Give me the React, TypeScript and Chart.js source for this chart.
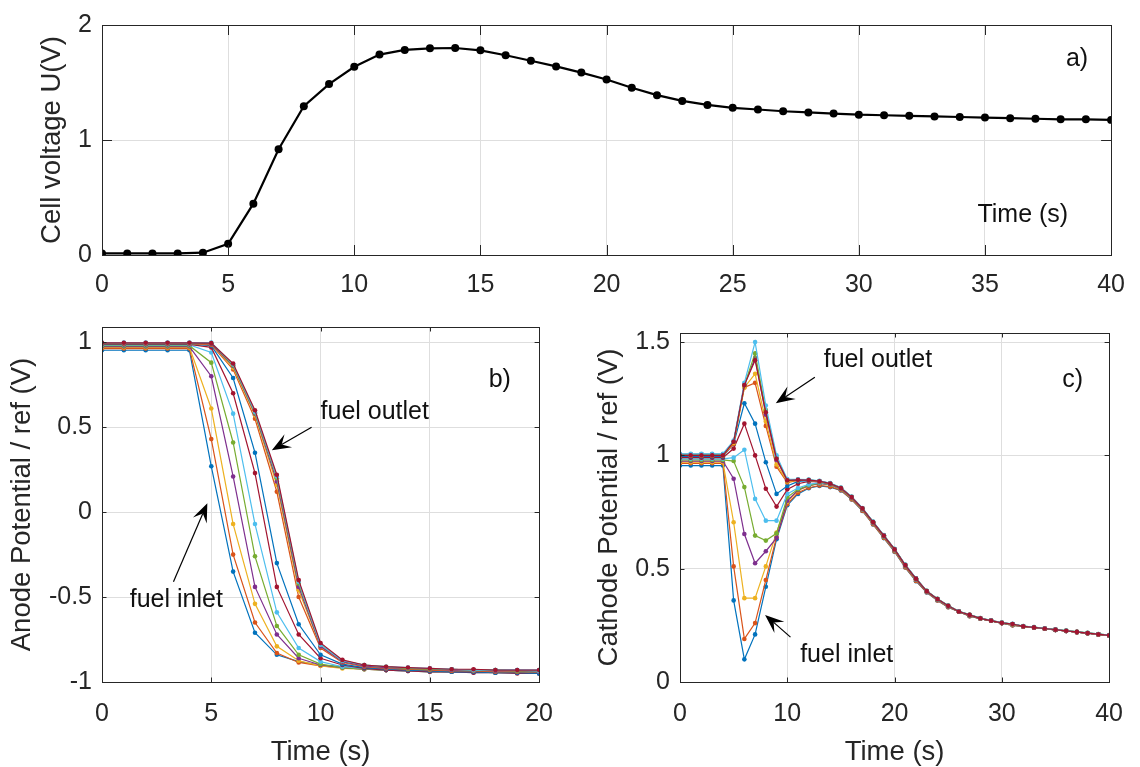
import React, { useEffect, useRef } from 'react';
import { Chart, registerables } from 'chart.js';

Chart.register(...registerables);

const FONT = "'Liberation Sans', Arial, Helvetica, sans-serif";
const AXIS_COLOR = '#262626';
const GRID_COLOR = '#dedede';
const NOTE_COLOR = '#111111';
const SERIES_COLORS = ['#0072BD', '#D95319', '#EDB120', '#7E2F8E', '#77AC30', '#4DBEEE', '#A2142F'];

// ---------- panel a) ----------
const timeA = [0, 1, 2, 3, 4, 5, 6, 7, 8, 9, 10, 11, 12, 13, 14, 15, 16, 17, 18, 19, 20, 21, 22, 23, 24, 25, 26, 27, 28, 29, 30, 31, 32, 33, 34, 35, 36, 37, 38, 39, 40];
const cellVoltage = [0.014, 0.014, 0.014, 0.014, 0.02, 0.097, 0.446, 0.92, 1.294, 1.486, 1.637, 1.743, 1.783, 1.797, 1.8, 1.78, 1.737, 1.689, 1.64, 1.586, 1.526, 1.454, 1.39, 1.34, 1.305, 1.28, 1.265, 1.25, 1.24, 1.23, 1.22, 1.215, 1.21, 1.205, 1.2, 1.195, 1.19, 1.185, 1.18, 1.18, 1.175];
const xTicksA = [0, 5, 10, 15, 20, 25, 30, 35, 40];
const yTicksA = [0, 1, 2];

// ---------- panel b) ----------
const timeB = [0, 1, 2, 3, 4, 5, 6, 7, 8, 9, 10, 11, 12, 13, 14, 15, 16, 17, 18, 19, 20];
const anode0 = [0.953, 0.953, 0.953, 0.953, 0.953, 0.27, -0.35, -0.71, -0.84, -0.88, -0.9, -0.91, -0.915, -0.92, -0.92, -0.925, -0.925, -0.93, -0.93, -0.93, -0.93];
const anode1 = [0.963, 0.963, 0.963, 0.963, 0.963, 0.43, -0.25, -0.65, -0.83, -0.885, -0.905, -0.915, -0.92, -0.925, -0.925, -0.93, -0.93, -0.935, -0.935, -0.935, -0.935];
const anode2 = [0.97, 0.97, 0.97, 0.97, 0.97, 0.61, -0.07, -0.54, -0.79, -0.875, -0.905, -0.92, -0.925, -0.93, -0.93, -0.935, -0.935, -0.94, -0.94, -0.94, -0.94];
const anode3 = [0.975, 0.975, 0.975, 0.975, 0.975, 0.8, 0.21, -0.44, -0.72, -0.86, -0.9, -0.915, -0.925, -0.93, -0.935, -0.935, -0.94, -0.94, -0.94, -0.945, -0.945];
const anode4 = [0.98, 0.98, 0.98, 0.98, 0.98, 0.88, 0.41, -0.26, -0.67, -0.84, -0.895, -0.915, -0.925, -0.93, -0.935, -0.94, -0.94, -0.94, -0.945, -0.945, -0.945];
const anode5 = [0.985, 0.985, 0.985, 0.985, 0.985, 0.94, 0.58, -0.07, -0.59, -0.8, -0.88, -0.91, -0.92, -0.93, -0.935, -0.94, -0.94, -0.945, -0.945, -0.945, -0.95];
const anode6 = [0.988, 0.988, 0.988, 0.988, 0.988, 0.97, 0.7, 0.23, -0.44, -0.72, -0.86, -0.9, -0.92, -0.93, -0.935, -0.94, -0.94, -0.945, -0.945, -0.95, -0.95];
const anode7 = [0.99, 0.99, 0.99, 0.99, 0.99, 0.98, 0.79, 0.35, -0.3, -0.66, -0.84, -0.895, -0.915, -0.925, -0.93, -0.935, -0.94, -0.94, -0.945, -0.945, -0.95];
const anode8 = [0.992, 0.992, 0.992, 0.992, 0.992, 0.985, 0.84, 0.55, 0.12, -0.5, -0.8, -0.885, -0.91, -0.92, -0.925, -0.93, -0.935, -0.935, -0.94, -0.94, -0.94];
const anode9 = [0.994, 0.994, 0.994, 0.994, 0.994, 0.99, 0.85, 0.57, 0.16, -0.46, -0.79, -0.88, -0.905, -0.915, -0.92, -0.925, -0.93, -0.93, -0.935, -0.935, -0.935];
const anode10 = [0.995, 0.995, 0.995, 0.995, 0.995, 0.99, 0.86, 0.58, 0.18, -0.44, -0.79, -0.88, -0.905, -0.915, -0.92, -0.925, -0.93, -0.93, -0.935, -0.935, -0.94];
const anode11 = [0.996, 0.996, 0.996, 0.996, 0.996, 0.995, 0.865, 0.585, 0.2, -0.42, -0.78, -0.875, -0.9, -0.91, -0.92, -0.925, -0.925, -0.93, -0.93, -0.935, -0.935];
const anode12 = [0.998, 0.998, 0.998, 0.998, 0.998, 0.998, 0.87, 0.59, 0.21, -0.41, -0.78, -0.875, -0.9, -0.91, -0.915, -0.92, -0.925, -0.93, -0.93, -0.93, -0.935];
const anode13 = [0.997, 0.997, 0.997, 0.997, 0.997, 0.995, 0.875, 0.6, 0.22, -0.4, -0.77, -0.87, -0.9, -0.91, -0.915, -0.92, -0.925, -0.925, -0.93, -0.93, -0.93];
const anodeTraces = [anode0, anode1, anode2, anode3, anode4, anode5, anode6, anode7, anode8, anode9, anode10, anode11, anode12, anode13];
const xTicksB = [0, 5, 10, 15, 20];
const yTicksB = [-1, -0.5, 0, 0.5, 1];

// ---------- panel c) ----------
const timeC = [0, 1, 2, 3, 4, 5, 6, 7, 8, 9, 10, 11, 12, 13, 14, 15, 16, 17, 18, 19, 20, 21, 22, 23, 24, 25, 26, 27, 28, 29, 30, 31, 32, 33, 34, 35, 36, 37, 38, 39, 40];
const cathode0 = [0.955, 0.955, 0.955, 0.955, 0.955, 0.36, 0.1, 0.21, 0.42, 0.63, 0.78, 0.83, 0.855, 0.865, 0.86, 0.845, 0.805, 0.755, 0.695, 0.635, 0.575, 0.505, 0.445, 0.395, 0.36, 0.33, 0.31, 0.29, 0.28, 0.27, 0.26, 0.25, 0.245, 0.24, 0.235, 0.23, 0.225, 0.22, 0.215, 0.21, 0.205];
const cathode1 = [0.965, 0.965, 0.965, 0.965, 0.965, 0.51, 0.19, 0.26, 0.45, 0.64, 0.785, 0.835, 0.857, 0.867, 0.862, 0.846, 0.806, 0.756, 0.696, 0.636, 0.576, 0.506, 0.446, 0.396, 0.36, 0.33, 0.31, 0.29, 0.28, 0.27, 0.26, 0.25, 0.245, 0.24, 0.235, 0.23, 0.225, 0.22, 0.215, 0.21, 0.205];
const cathode2 = [0.97, 0.97, 0.97, 0.97, 0.97, 0.705, 0.37, 0.37, 0.51, 0.66, 0.795, 0.845, 0.865, 0.875, 0.87, 0.85, 0.81, 0.76, 0.7, 0.64, 0.58, 0.51, 0.45, 0.4, 0.362, 0.332, 0.31, 0.292, 0.28, 0.27, 0.26, 0.252, 0.245, 0.24, 0.235, 0.23, 0.225, 0.22, 0.215, 0.21, 0.205];
const cathode3 = [0.975, 0.975, 0.975, 0.975, 0.975, 0.897, 0.653, 0.524, 0.577, 0.636, 0.8, 0.847, 0.866, 0.876, 0.871, 0.851, 0.811, 0.761, 0.701, 0.641, 0.581, 0.511, 0.451, 0.4, 0.362, 0.332, 0.31, 0.292, 0.28, 0.27, 0.26, 0.252, 0.245, 0.24, 0.235, 0.23, 0.225, 0.22, 0.215, 0.21, 0.205];
const cathode4 = [0.98, 0.98, 0.98, 0.98, 0.98, 0.975, 0.86, 0.646, 0.624, 0.656, 0.815, 0.85, 0.868, 0.878, 0.872, 0.852, 0.812, 0.762, 0.702, 0.642, 0.582, 0.512, 0.452, 0.4, 0.363, 0.333, 0.31, 0.293, 0.28, 0.27, 0.26, 0.253, 0.245, 0.24, 0.235, 0.23, 0.225, 0.22, 0.215, 0.21, 0.205];
const cathode5 = [0.985, 0.985, 0.985, 0.985, 0.985, 0.99, 1.025, 0.808, 0.712, 0.712, 0.83, 0.856, 0.872, 0.88, 0.873, 0.853, 0.813, 0.763, 0.703, 0.643, 0.583, 0.513, 0.453, 0.4, 0.364, 0.334, 0.31, 0.294, 0.28, 0.27, 0.26, 0.254, 0.245, 0.24, 0.235, 0.23, 0.225, 0.22, 0.215, 0.21, 0.205];
const cathode6 = [0.99, 0.99, 0.99, 0.99, 0.99, 1.03, 1.14, 1.0, 0.853, 0.774, 0.85, 0.875, 0.885, 0.883, 0.874, 0.854, 0.814, 0.764, 0.704, 0.644, 0.584, 0.514, 0.454, 0.4, 0.365, 0.335, 0.31, 0.295, 0.28, 0.27, 0.26, 0.255, 0.245, 0.24, 0.235, 0.23, 0.225, 0.22, 0.215, 0.21, 0.205];
const cathode7 = [0.995, 0.995, 0.995, 0.995, 0.995, 1.05, 1.23, 1.14, 0.97, 0.83, 0.865, 0.885, 0.888, 0.884, 0.875, 0.855, 0.815, 0.765, 0.705, 0.645, 0.585, 0.515, 0.455, 0.4, 0.365, 0.335, 0.31, 0.295, 0.28, 0.27, 0.26, 0.255, 0.245, 0.24, 0.235, 0.23, 0.225, 0.22, 0.215, 0.21, 0.205];
const cathode8 = [1.0, 1.0, 1.0, 1.0, 1.0, 1.05, 1.3, 1.32, 1.13, 0.95, 0.88, 0.89, 0.89, 0.885, 0.875, 0.855, 0.815, 0.765, 0.705, 0.645, 0.585, 0.515, 0.455, 0.4, 0.365, 0.335, 0.31, 0.295, 0.28, 0.27, 0.26, 0.255, 0.245, 0.24, 0.235, 0.23, 0.225, 0.22, 0.215, 0.21, 0.205];
const cathode9 = [1.0, 1.0, 1.0, 1.0, 1.0, 1.055, 1.3, 1.36, 1.15, 0.96, 0.885, 0.89, 0.89, 0.885, 0.876, 0.856, 0.816, 0.766, 0.706, 0.646, 0.586, 0.516, 0.456, 0.401, 0.366, 0.336, 0.311, 0.296, 0.281, 0.271, 0.261, 0.255, 0.246, 0.241, 0.236, 0.231, 0.226, 0.221, 0.216, 0.211, 0.206];
const cathode10 = [1.005, 1.005, 1.005, 1.005, 1.005, 1.06, 1.31, 1.43, 1.18, 0.98, 0.89, 0.892, 0.891, 0.886, 0.876, 0.856, 0.816, 0.766, 0.706, 0.646, 0.586, 0.516, 0.456, 0.401, 0.366, 0.336, 0.311, 0.296, 0.281, 0.271, 0.261, 0.256, 0.246, 0.241, 0.236, 0.231, 0.226, 0.221, 0.216, 0.211, 0.206];
const cathode11 = [1.005, 1.005, 1.005, 1.005, 1.005, 1.06, 1.31, 1.45, 1.2, 0.99, 0.89, 0.893, 0.892, 0.887, 0.877, 0.857, 0.817, 0.767, 0.707, 0.647, 0.587, 0.517, 0.457, 0.402, 0.367, 0.337, 0.312, 0.297, 0.282, 0.272, 0.262, 0.256, 0.247, 0.242, 0.237, 0.232, 0.227, 0.222, 0.217, 0.212, 0.207];
const cathode12 = [1.007, 1.007, 1.007, 1.007, 1.007, 1.065, 1.32, 1.5, 1.22, 1.0, 0.895, 0.894, 0.893, 0.888, 0.878, 0.858, 0.818, 0.768, 0.708, 0.648, 0.588, 0.518, 0.458, 0.402, 0.367, 0.337, 0.312, 0.297, 0.282, 0.272, 0.262, 0.257, 0.247, 0.242, 0.237, 0.232, 0.227, 0.222, 0.217, 0.212, 0.207];
const cathode13 = [1.0, 1.0, 1.0, 1.0, 1.0, 1.06, 1.31, 1.42, 1.19, 0.985, 0.89, 0.892, 0.891, 0.886, 0.876, 0.856, 0.816, 0.766, 0.706, 0.646, 0.586, 0.516, 0.456, 0.401, 0.366, 0.336, 0.311, 0.296, 0.281, 0.271, 0.261, 0.256, 0.246, 0.241, 0.236, 0.231, 0.226, 0.221, 0.216, 0.211, 0.206];
const cathodeTraces = [cathode0, cathode1, cathode2, cathode3, cathode4, cathode5, cathode6, cathode7, cathode8, cathode9, cathode10, cathode11, cathode12, cathode13];
const xTicksC = [0, 10, 20, 30, 40];
const yTicksC = [0, 0.5, 1, 1.5];

// ---------- annotations (data coordinates) ----------
type Note = { text: string; x: number; y: number; align: CanvasTextAlign };
type Arrow = { fromX: number; fromY: number; toX: number; toY: number };

const notesA: Note[] = [
  { text: 'a)', x: 38.65, y: 1.7, align: 'center' },
  { text: 'Time (s)', x: 36.5, y: 0.35, align: 'center' },
];
const notesB: Note[] = [
  { text: 'fuel outlet', x: 10.0, y: 0.588, align: 'left' },
  { text: 'fuel inlet', x: 1.27, y: -0.518, align: 'left' },
  { text: 'b)', x: 18.2, y: 0.78, align: 'center' },
];
const arrowsB: Arrow[] = [
  { fromX: 9.59, fromY: 0.5, toX: 7.77, toY: 0.365 },
  { fromX: 3.27, fromY: -0.41, toX: 4.82, toY: 0.053 },
];
const notesC: Note[] = [
  { text: 'fuel outlet', x: 13.4, y: 1.42, align: 'left' },
  { text: 'fuel inlet', x: 11.2, y: 0.119, align: 'left' },
  { text: 'c)', x: 36.6, y: 1.33, align: 'center' },
];
const arrowsC: Arrow[] = [
  { fromX: 12.57, fromY: 1.345, toX: 8.93, toY: 1.23 },
  { fromX: 10.3, fromY: 0.198, toX: 7.93, toY: 0.296 },
];

function makeOverlay(tickLen: number, notes: Note[], arrows: Arrow[]) {
  return {
    id: 'matlabOverlay',
    afterDatasetsDraw(chart: any) {
      const { ctx, chartArea: a, scales } = chart;
      const xs = scales.x;
      const ys = scales.y;
      ctx.save();
      ctx.strokeStyle = AXIS_COLOR;
      ctx.lineWidth = 1;
      ctx.beginPath();
      xs.ticks.forEach((t: any) => {
        const px = Math.round(xs.getPixelForValue(t.value)) + 0.5;
        ctx.moveTo(px, a.bottom);
        ctx.lineTo(px, a.bottom - tickLen);
        ctx.moveTo(px, a.top);
        ctx.lineTo(px, a.top + tickLen);
      });
      ys.ticks.forEach((t: any) => {
        const py = Math.round(ys.getPixelForValue(t.value)) + 0.5;
        ctx.moveTo(a.left, py);
        ctx.lineTo(a.left + tickLen, py);
        ctx.moveTo(a.right, py);
        ctx.lineTo(a.right - tickLen, py);
      });
      ctx.stroke();
      ctx.strokeRect(Math.round(a.left) + 0.5, Math.round(a.top) + 0.5, Math.round(a.right - a.left), Math.round(a.bottom - a.top));
      ctx.restore();
    },
    afterDraw(chart: any) {
      const { ctx, scales } = chart;
      const xs = scales.x;
      const ys = scales.y;
      ctx.save();
      ctx.fillStyle = NOTE_COLOR;
      ctx.font = `25px ${FONT}`;
      ctx.textBaseline = 'middle';
      notes.forEach((n) => {
        ctx.textAlign = n.align;
        ctx.fillText(n.text, xs.getPixelForValue(n.x), ys.getPixelForValue(n.y));
      });
      arrows.forEach((ar) => {
        const x0 = xs.getPixelForValue(ar.fromX);
        const y0 = ys.getPixelForValue(ar.fromY);
        const x1 = xs.getPixelForValue(ar.toX);
        const y1 = ys.getPixelForValue(ar.toY);
        const len = Math.hypot(x1 - x0, y1 - y0);
        const dx = (x1 - x0) / len;
        const dy = (y1 - y0) / len;
        const nx = -dy;
        const ny = dx;
        const L = 19;
        const W = 7.5;
        const notchX = x1 - dx * L * 0.6;
        const notchY = y1 - dy * L * 0.6;
        ctx.strokeStyle = '#000';
        ctx.lineWidth = 1.2;
        ctx.beginPath();
        ctx.moveTo(x0, y0);
        ctx.lineTo(notchX, notchY);
        ctx.stroke();
        ctx.fillStyle = '#000';
        ctx.beginPath();
        ctx.moveTo(x1, y1);
        ctx.lineTo(x1 - dx * L + nx * W, y1 - dy * L + ny * W);
        ctx.lineTo(notchX, notchY);
        ctx.lineTo(x1 - dx * L - nx * W, y1 - dy * L - ny * W);
        ctx.closePath();
        ctx.fill();
        ctx.fillStyle = NOTE_COLOR;
      });
      ctx.restore();
    },
  };
}

function xAxis(min: number, max: number, ticks: number[], height: number, pad: number, title: string | null) {
  return {
    type: 'linear',
    position: 'bottom',
    min,
    max,
    afterBuildTicks: (s: any) => {
      s.ticks = ticks.map((v) => ({ value: v }));
    },
    afterFit: (s: any) => {
      s.height = height;
    },
    grid: { color: GRID_COLOR, lineWidth: 1, drawTicks: false },
    border: { display: false },
    ticks: {
      padding: pad,
      color: AXIS_COLOR,
      font: { family: FONT, size: 25 },
      maxRotation: 0,
      autoSkip: false,
      callback: (v: any) => String(v),
    },
    title: title
      ? { display: true, text: title, color: AXIS_COLOR, font: { family: FONT, size: 27.5, lineHeight: 1 }, padding: { top: 0, bottom: 1 } }
      : { display: false },
  };
}

function yAxis(min: number, max: number, ticks: number[], width: number, title: string, titleOffset: number) {
  return {
    type: 'linear',
    position: 'left',
    min,
    max,
    afterBuildTicks: (s: any) => {
      s.ticks = ticks.map((v) => ({ value: v }));
    },
    afterFit: (s: any) => {
      s.width = width;
    },
    grid: { color: GRID_COLOR, lineWidth: 1, drawTicks: false },
    border: { display: false },
    ticks: {
      padding: 10,
      color: AXIS_COLOR,
      font: { family: FONT, size: 25 },
      autoSkip: false,
      callback: (v: any) => String(v),
    },
    title: {
      display: true,
      text: title,
      color: AXIS_COLOR,
      font: { family: FONT, size: 27.5, lineHeight: 1.2 },
      padding: { top: titleOffset, bottom: 0 },
    },
  };
}

function traceDatasets(times: number[], traces: number[][]) {
  return traces.map((values, i) => {
    const color = SERIES_COLORS[i % SERIES_COLORS.length];
    return {
      data: times.map((t, k) => ({ x: t, y: values[k] })),
      borderColor: color,
      backgroundColor: color,
      pointBackgroundColor: color,
      pointBorderWidth: 0,
      pointRadius: 2.3,
      pointHoverRadius: 0,
      borderWidth: 1.2,
      tension: 0,
      fill: false,
      order: traces.length - i,
    };
  });
}

const baseOptions = {
  responsive: false,
  animation: false,
  devicePixelRatio: 1,
  events: [],
  plugins: { legend: { display: false }, tooltip: { enabled: false } },
};

function buildA(): any {
  return {
    type: 'line',
    data: {
      datasets: [
        {
          data: timeA.map((t, i) => ({ x: t, y: cellVoltage[i] })),
          borderColor: '#000',
          backgroundColor: '#000',
          pointBackgroundColor: '#000',
          pointBorderWidth: 0,
          pointRadius: 4,
          borderWidth: 2.2,
          tension: 0,
          fill: false,
        },
      ],
    },
    options: {
      ...baseOptions,
      layout: { padding: { left: 0, top: 21, right: 21, bottom: 0 } },
      scales: {
        x: xAxis(0, 40, xTicksA, 55, 15, null),
        y: yAxis(0, 2, yTicksA, 102, 'Cell voltage U(V)', 35.5),
      },
    },
    plugins: [makeOverlay(10, notesA, [])],
  };
}

function buildB(): any {
  return {
    type: 'line',
    data: { datasets: traceDatasets(timeB, anodeTraces) },
    options: {
      ...baseOptions,
      layout: { padding: { left: 0, top: 27, right: 28, bottom: 0 } },
      scales: {
        x: xAxis(0, 20, xTicksB, 85, 17, 'Time (s)'),
        y: yAxis(-1, 1.09, yTicksB, 102, 'Anode Potential / ref (V)', 5.5),
      },
    },
    plugins: [makeOverlay(4.5, notesB, arrowsB)],
  };
}

function buildC(): any {
  return {
    type: 'line',
    data: { datasets: traceDatasets(timeC, cathodeTraces) },
    options: {
      ...baseOptions,
      layout: { padding: { left: 0, top: 33, right: 21, bottom: 0 } },
      scales: {
        x: xAxis(0, 40, xTicksC, 85, 17, 'Time (s)'),
        y: yAxis(0, 1.54, yTicksC, 110, 'Cathode Potential / ref (V)', 22.5),
      },
    },
    plugins: [makeOverlay(4.5, notesC, arrowsC)],
  };
}

function ChartPanel(props: { left: number; top: number; width: number; height: number; build: () => any }) {
  const { left, top, width, height, build } = props;
  const ref = useRef<HTMLCanvasElement | null>(null);
  useEffect(() => {
    if (!ref.current) return undefined;
    const chart = new Chart(ref.current, build());
    return () => chart.destroy();
  }, [build]);
  return (
    <canvas
      ref={ref}
      width={width}
      height={height}
      style={{ position: 'absolute', left, top, width, height, display: 'block' }}
    />
  );
}

export default function App() {
  return (
    <div style={{ position: 'fixed', left: 0, top: 0, width: 1140, height: 767, background: '#ffffff', overflow: 'hidden' }}>
      <ChartPanel left={0} top={0} width={1140} height={310} build={buildA} />
      <ChartPanel left={0} top={300} width={570} height={467} build={buildB} />
      <ChartPanel left={570} top={300} width={570} height={467} build={buildC} />
    </div>
  );
}
